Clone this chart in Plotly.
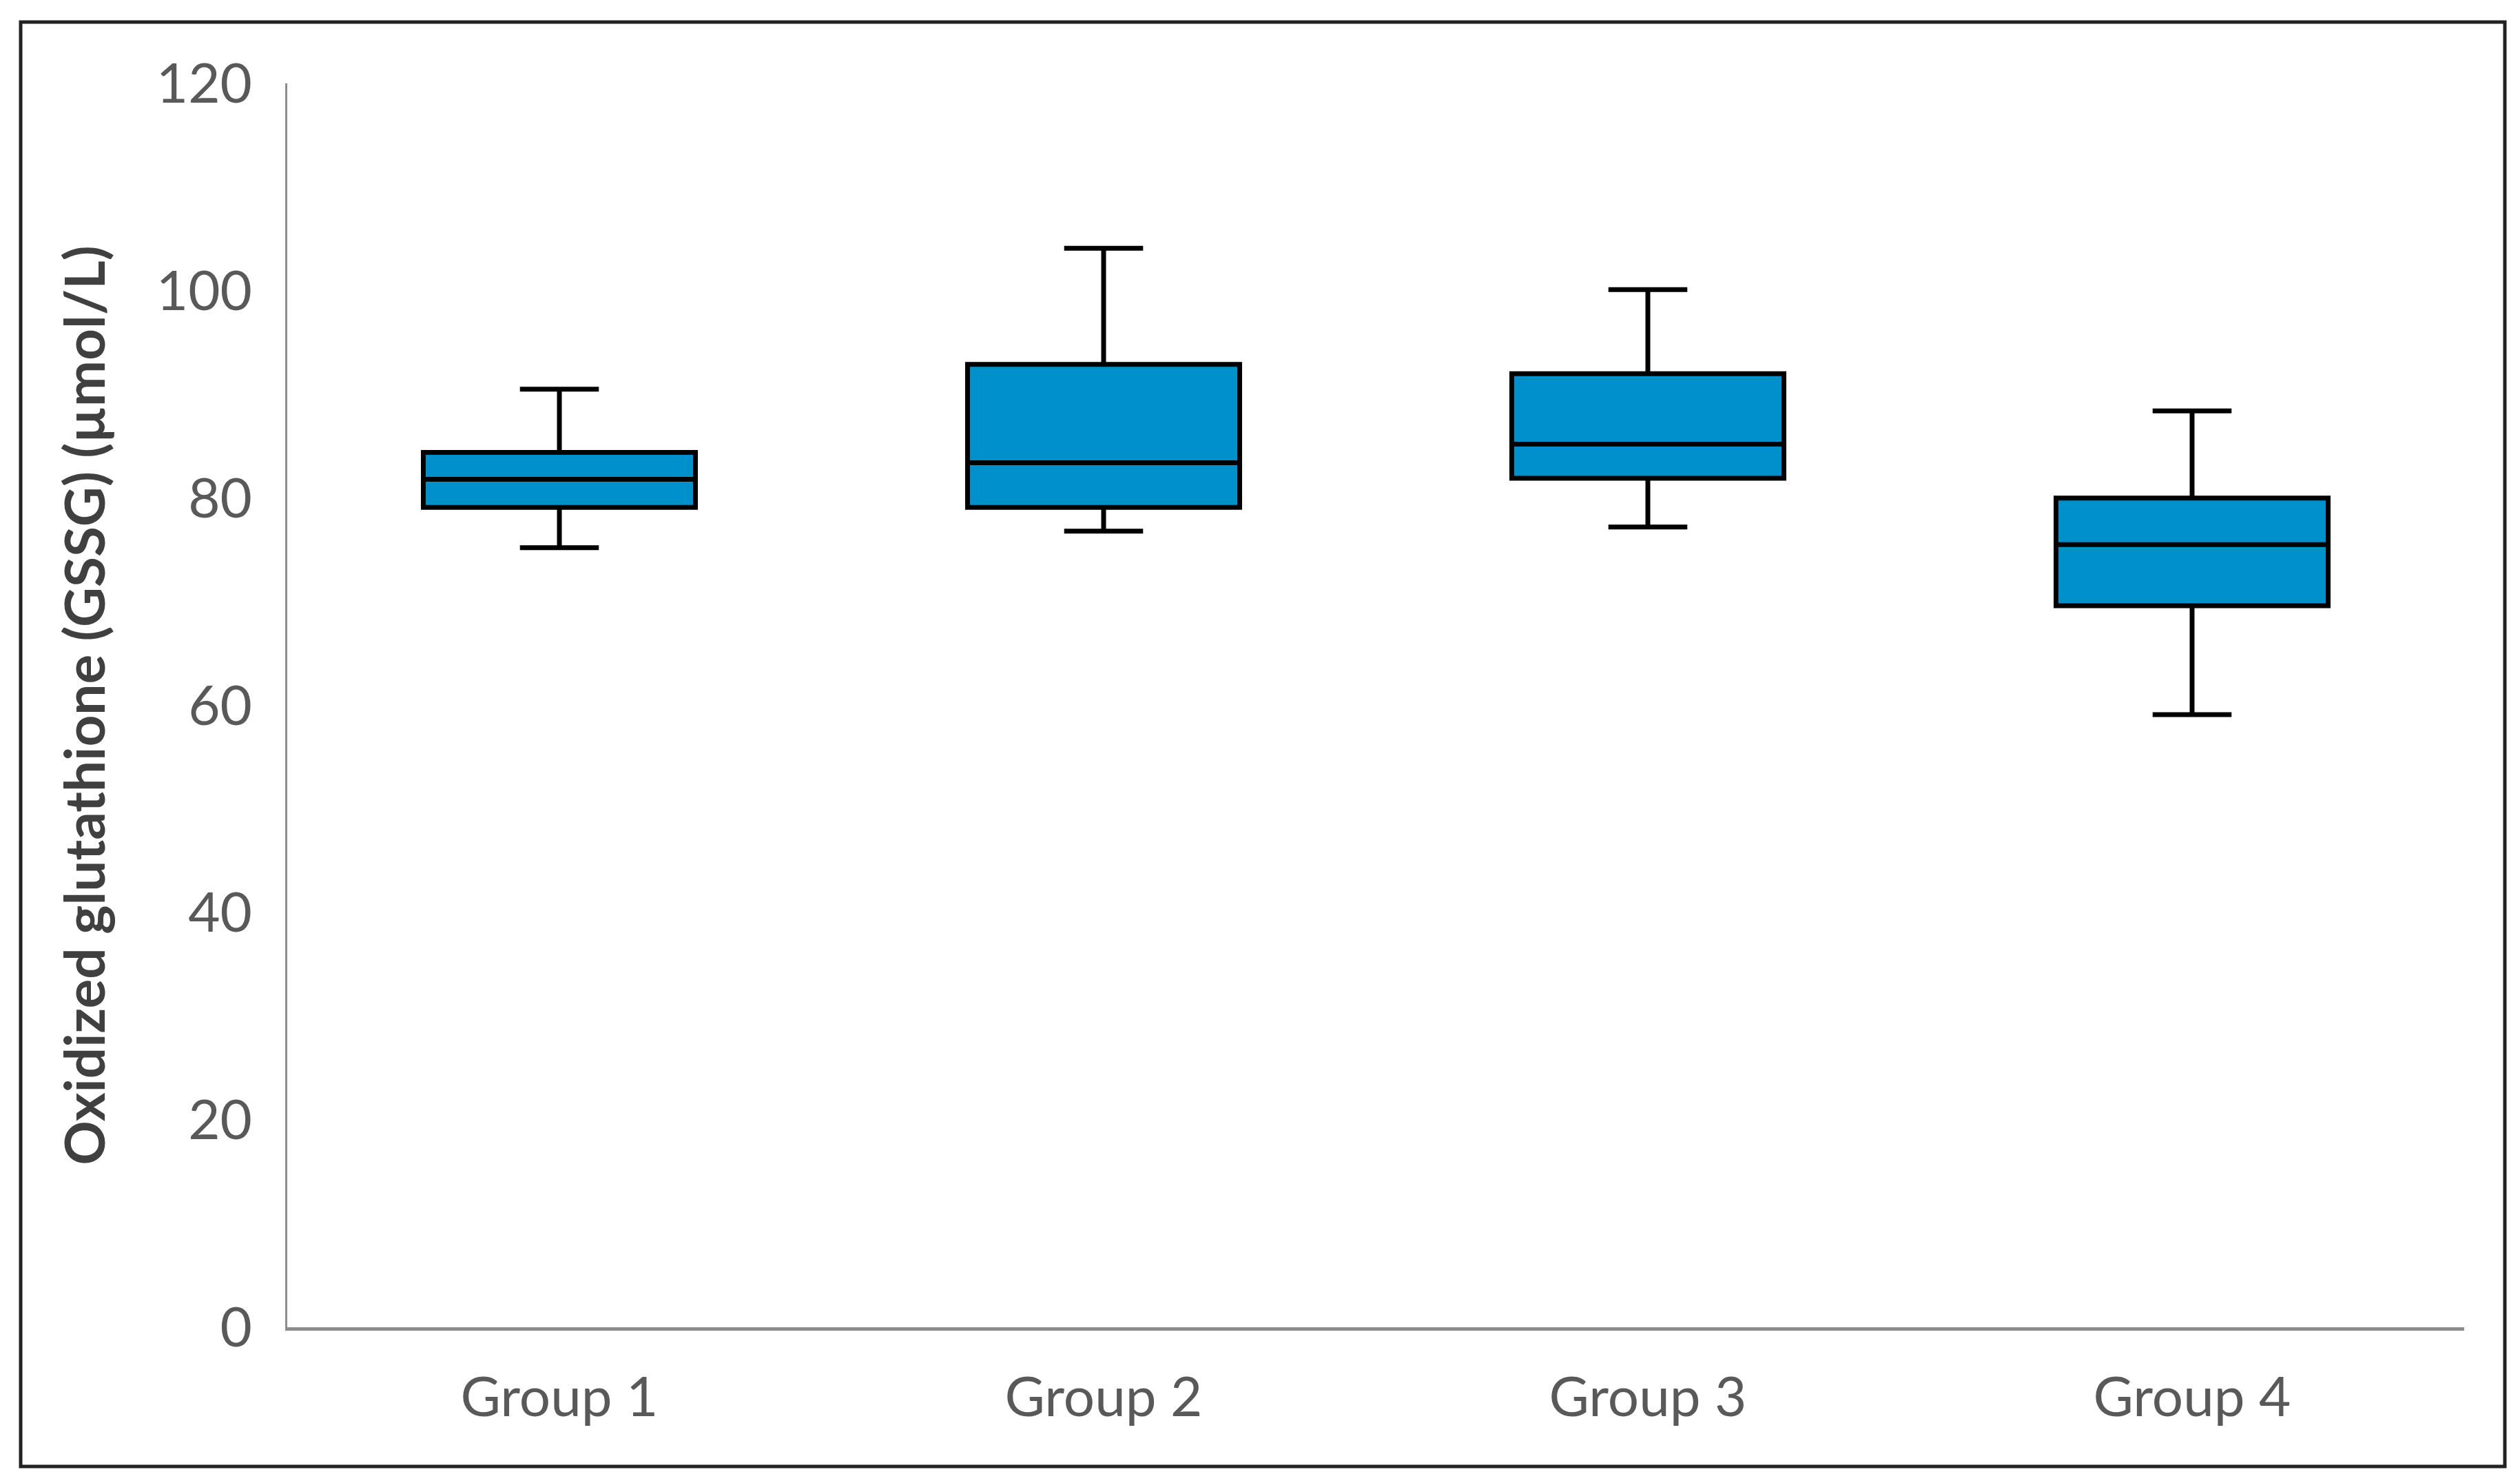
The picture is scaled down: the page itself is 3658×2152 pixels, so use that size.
import plotly.graph_objects as go

groups = ["Group 1", "Group 2", "Group 3", "Group 4"]
lower_whisker = [75.2, 76.8, 77.2, 59.1]
q1 = [79.1, 79.1, 81.9, 69.6]
median = [81.8, 83.4, 85.2, 75.5]
q3 = [84.4, 92.9, 92.0, 80.0]
upper_whisker = [90.5, 104.1, 100.1, 88.4]
y_ticks = [0, 20, 40, 60, 80, 100, 120]

W, H = 3658, 2152
ml, mr, mt, mb = 409, 89, 113, 234
pw, ph = W - ml - mr, H - mt - mb

def px_x(p):
    return (p - ml) / pw

def px_y(p):
    return (H - mb - p) / ph

fig = go.Figure()
fig.add_trace(go.Box(
    x=groups,
    q1=q1, median=median, q3=q3,
    lowerfence=lower_whisker, upperfence=upper_whisker,
    fillcolor="#0090CC",
    line=dict(color="black", width=7),
    width=0.5,
    whiskerwidth=0.29,
    boxpoints=False,
    showlegend=False,
    hoverinfo="skip",
))

tick_font = dict(family="Lato, Open Sans, sans-serif", size=80, color="#595959")

fig.update_layout(
    width=W, height=H,
    margin=dict(l=ml, r=mr, t=mt, b=mb),
    paper_bgcolor="white", plot_bgcolor="white",
    xaxis=dict(
        type="category", range=[-0.5, 3.5],
        showgrid=False, zeroline=False,
        showline=True, linecolor="#8C8C8C", linewidth=5,
        ticks="", tickfont=tick_font,
        ticklabelstandoff=28,
    ),
    yaxis=dict(
        range=[0, 120], tickvals=y_ticks,
        showgrid=False, zeroline=False,
        showline=True, linecolor="#8C8C8C", linewidth=3,
        ticks="", tickfont=tick_font,
        ticklabelstandoff=32,
        title=dict(
            text="Oxidized glutathione (GSSG) (µmol/L)",
            font=dict(family="Lato, Open Sans, sans-serif", size=80, color="#404040", weight="bold"),
            standoff=48,
        ),
    ),
    shapes=[dict(
        type="rect", xref="paper", yref="paper",
        x0=px_x(22), x1=px_x(3628), y0=px_y(2120), y1=px_y(24),
        line=dict(color="#222222", width=5), fillcolor="rgba(0,0,0,0)",
        layer="below",
    )],
)

fig.write_html("out.html")
